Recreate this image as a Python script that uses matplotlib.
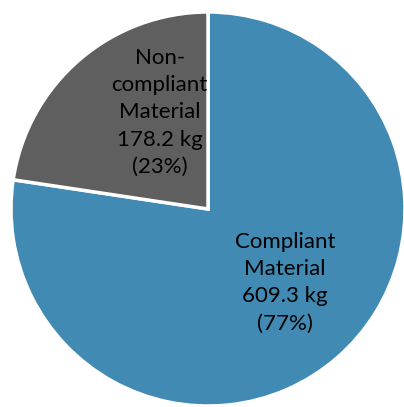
import matplotlib
matplotlib.use("Agg")
import matplotlib.pyplot as plt

categories = ["Compliant\nMaterial", "Non-\ncompliant\nMaterial"]
values = [609.3, 178.2]
percents = ["77%", "23%"]
colors = ["#418AB3", "#5F5F5F"]

W, H = 404, 407
fig = plt.figure(figsize=(W / 100, H / 100), dpi=100)
cx, cy, r = 208, 209, 197
ax = fig.add_axes([(cx - r) / W, (H - cy - r) / H, 2 * r / W, 2 * r / H])
ax.pie(values, colors=colors, startangle=90, counterclock=False, radius=1,
       wedgeprops=dict(edgecolor="white", linewidth=2.5))
ax.set_xlim(-1, 1)
ax.set_ylim(-1, 1)
ax.set_aspect("equal")
ax.axis("off")

label_pos = [(0.39, -0.375), (-0.245, 0.49)]
for cat, v, p, (x, y) in zip(categories, values, percents, label_pos):
    ax.text(x, y, f"{cat}\n{v:.1f} kg\n({p})", ha="center", va="center",
            fontsize=16, family=["Lato", "DejaVu Sans"], color="black",
            linespacing=1.45)

fig.savefig("out.png", dpi=100)
